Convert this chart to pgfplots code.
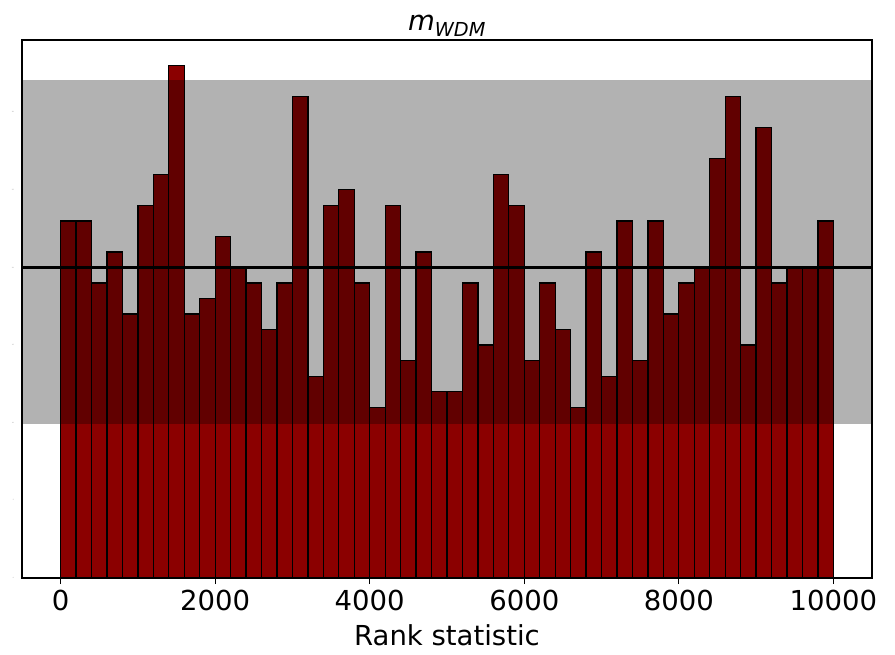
\documentclass[border=0pt]{standalone}
\usepackage{fontspec}
\setmainfont{DejaVu Sans}
\usepackage{pgfplots}
\pgfplotsset{compat=1.18}
\definecolor{barred}{RGB}{139,0,0}

\pgfplotstableread{
x y
100 23
300 23
500 19
700 21
900 17
1100 24
1300 26
1500 33
1700 17
1900 18
2100 22
2300 20
2500 19
2700 16
2900 19
3100 31
3300 13
3500 24
3700 25
3900 19
4100 11
4300 24
4500 14
4700 21
4900 12
5100 12
5300 19
5500 15
5700 26
5900 24
6100 14
6300 19
6500 16
6700 11
6900 21
7100 13
7300 23
7500 14
7700 23
7900 17
8100 19
8300 20
8500 27
8700 31
8900 15
9100 29
9300 19
9500 20
9700 20
9900 23
}\ranks

\begin{document}
\begin{tikzpicture}
\begin{axis}[
  scale only axis, width=850pt, height=538pt,
  xmin=-500, xmax=10500, ymin=0, ymax=34.65,
  axis line style={black, line width=1.2pt},
  xtick={0,2000,4000,6000,8000,10000},
  ytick={0,5,10,15,20,25,30},
  scaled ticks=false,
  xtick align=outside, xtick pos=bottom, ytick pos=left,
  major tick length=6pt,
  every tick/.style={black, line width=1pt},
  y tick style={draw=none},
  /pgf/number format/1000 sep={},
  /pgf/number format/assume math mode=true,
  xticklabel style={font=\fontsize{27.5}{30}\selectfont, yshift=-3pt},
  yticklabel style={font=\fontsize{1.5}{2}\selectfont, text=gray, inner sep=0pt, xshift=-8pt},
  xlabel={Rank statistic},
  xlabel style={font=\fontsize{27.5}{30}\selectfont, yshift=-6pt},
  title={\itshape m\textsubscript{WDM}},
  title style={font=\fontsize{27.5}{30}\selectfont, yshift=-6pt},
]
\addplot[ybar, bar width=200, bar shift=0pt, fill=barred, draw=black, line width=1.3pt] table[x=x, y=y] {\ranks};
\addplot[draw=none, fill=black, fill opacity=0.3] coordinates {(-500,9.92) (10500,9.92) (10500,32.07) (-500,32.07) (-500,9.92)};
\addplot[black, line width=2.2pt] coordinates {(-500,20) (10500,20)};
\end{axis}
\path (current axis.south west) ++(-22pt,-76pt) coordinate (bl);
\path (current axis.north east) ++(23pt,40pt) coordinate (tr);
\path (bl) rectangle (tr);
\end{tikzpicture}
\end{document}
